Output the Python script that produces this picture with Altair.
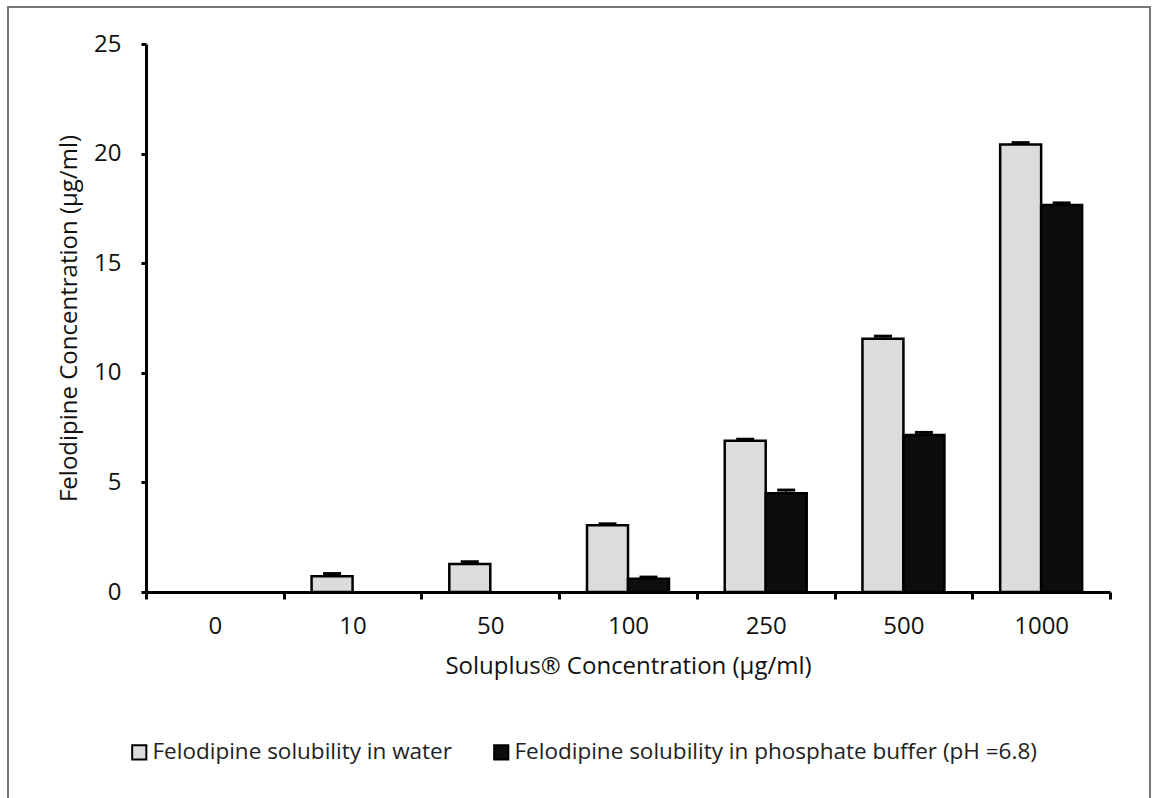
import altair as alt
import pandas as pd

categories = ["0", "10", "50", "100", "250", "500", "1000"]
water = [0, 0.72, 1.28, 3.04, 6.9, 11.55, 20.42]
water_err = [0, 0.12, 0.1, 0.07, 0.07, 0.12, 0.08]
buffer = [0, 0, 0, 0.6, 4.5, 7.16, 17.65]
buffer_err = [0, 0, 0, 0.08, 0.15, 0.12, 0.1]

s_water = "Felodipine solubility in water"
s_buffer = "Felodipine solubility in phosphate buffer (pH =6.8)"
series = [s_water, s_buffer]

rows = []
for i, c in enumerate(categories):
    rows.append({"cat": c, "series": s_water, "value": water[i], "err": water_err[i]})
    rows.append({"cat": c, "series": s_buffer, "value": buffer[i], "err": buffer_err[i]})
df = pd.DataFrame(rows)
df["top"] = df["value"] + df["err"]

FONT = "Open Sans"

x_enc = alt.X("cat:N", sort=categories,
              scale=alt.Scale(domain=categories, paddingInner=0, paddingOuter=0),
              axis=alt.Axis(title="Soluplus® Concentration (µg/ml)", labelAngle=0,
                            tickBand="extent", domainColor="black", domainWidth=3,
                            tickColor="black", tickWidth=3, tickSize=7,
                            labelFontSize=24, labelPadding=15, labelColor="#111",
                            titleFontSize=24, titleFontWeight="normal", titlePadding=16,
                            titleColor="#111", labelFont=FONT, titleFont=FONT))
xoff = alt.XOffset("series:N", sort=series,
                   scale=alt.Scale(domain=series, paddingInner=0, paddingOuter=0.68))
y_enc = alt.Y("value:Q", scale=alt.Scale(domain=[0, 25], nice=False),
              axis=alt.Axis(title="Felodipine Concentration  (µg/ml)", values=[0, 5, 10, 15, 20, 25],
                            grid=False, domainColor="black", domainWidth=3,
                            tickColor="black", tickWidth=3, tickSize=5,
                            labelFontSize=24, labelPadding=20, labelColor="#111",
                            titleFontSize=24, titleFontWeight="normal", titlePadding=12,
                            titleColor="#111", labelFont=FONT, titleFont=FONT))

bars = alt.Chart(df).transform_filter("datum.value > 0").mark_bar(
    stroke="black", strokeWidth=2.5).encode(
    x=x_enc,
    xOffset=xoff,
    y=y_enc,
    color=alt.Color("series:N", sort=series,
                    scale=alt.Scale(domain=series, range=["#dcdcdc", "#0d0d0d"]),
                    legend=alt.Legend(title=None, orient="none", direction="horizontal",
                                      legendX=-18, legendY=697, symbolType="square",
                                      symbolSize=200, symbolStrokeColor="black",
                                      symbolStrokeWidth=2, labelFontSize=22.5,
                                      labelFont=FONT, labelColor="#222", labelLimit=800,
                                      columnPadding=38, labelOffset=2)),
)

err_df = df[df["err"] > 0]
rules = alt.Chart(err_df).mark_rule(color="black", strokeWidth=1.5).encode(
    x=alt.X("cat:N", sort=categories),
    xOffset=alt.XOffset("series:N", sort=series),
    y="value:Q",
    y2="top:Q",
)
caps = alt.Chart(err_df).mark_tick(color="black", thickness=3, size=18, opacity=1).encode(
    x=alt.X("cat:N", sort=categories),
    xOffset=alt.XOffset("series:N", sort=series),
    y="top:Q",
)

frame = alt.Chart(pd.DataFrame({"a": [0]})).mark_rect(
    fill=None, stroke="#777", strokeWidth=2).encode(
    x=alt.value(-138), x2=alt.value(1004), y=alt.value(-37), y2=alt.value(770))

chart = alt.layer(frame, bars, rules, caps).properties(
    width=964, height=548,
    autosize=alt.AutoSizeParams(type="none"),
    padding={"left": 146, "top": 44, "right": 43, "bottom": 206},
    background="white",
).configure_view(stroke=None)

chart.save("out.html", embed_options={"renderer": "svg", "actions": False})
